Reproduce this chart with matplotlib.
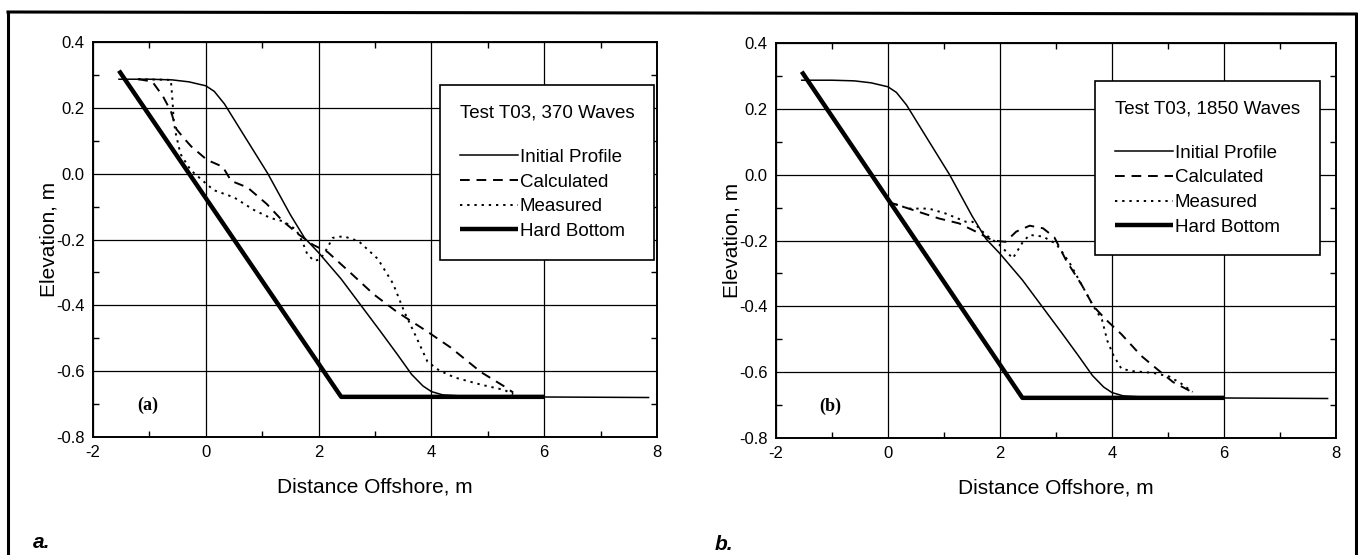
import matplotlib.pyplot as plt
from matplotlib.lines import Line2D
from matplotlib.ticker import MultipleLocator

plt.rcParams['font.family'] = ['Liberation Sans', 'DejaVu Sans']
plt.rcParams['axes.unicode_minus'] = False

# shared profiles
init_x = [-1.54, -1.0, -0.6, -0.3, 0.0, 0.15, 0.33, 0.7, 1.1, 1.5, 1.75, 2.0, 2.4, 2.75, 3.1,
          3.4, 3.65, 3.85, 4.0, 4.2, 4.6, 5.5, 7.85]
init_y = [0.287, 0.287, 0.285, 0.279, 0.267, 0.25, 0.212, 0.11, 0.0, -0.125, -0.195, -0.24,
          -0.32, -0.40, -0.48, -0.55, -0.61, -0.645, -0.662, -0.672, -0.676, -0.678, -0.68]
hard_x = [-1.54, 2.4, 6.0]
hard_y = [0.313, -0.678, -0.678]

# (a) 370 waves
calc_a_x = [-1.2, -0.95, -0.76, -0.62, -0.52, -0.4, -0.26, 0.02, 0.3, 0.45, 0.74, 1.08, 1.37,
            1.65, 1.9, 2.16, 2.57, 2.98, 3.39, 3.93, 4.34, 4.88, 5.29, 5.45]
calc_a_y = [0.287, 0.28, 0.235, 0.19, 0.135, 0.11, 0.083, 0.042, 0.021, -0.022, -0.042, -0.092,
            -0.145, -0.185, -0.216, -0.238, -0.302, -0.367, -0.42, -0.48, -0.528, -0.603, -0.646,
            -0.665]
meas_a_x = [-1.2, -0.62, -0.59, -0.57, -0.53, -0.45, -0.27, -0.03, 0.14, 0.5, 0.85, 1.15, 1.38,
            1.6, 1.72, 1.8, 1.92, 2.03, 2.14, 2.25, 2.44, 2.71, 3.05, 3.32, 3.52, 3.73, 3.93,
            4.14, 4.41, 4.88, 5.29, 5.45]
meas_a_y = [0.287, 0.285, 0.22, 0.16, 0.12, 0.06, 0.011, -0.025, -0.05, -0.072, -0.11, -0.135,
            -0.145, -0.17, -0.21, -0.245, -0.265, -0.26, -0.23, -0.195, -0.19, -0.205, -0.259,
            -0.334, -0.42, -0.496, -0.571, -0.598, -0.619, -0.641, -0.657, -0.67]

# (b) 1850 waves
calc_b_x = [0.01, 0.19, 0.55, 0.91, 1.27, 1.57, 1.87, 2.1, 2.29, 2.53, 2.77, 2.97, 3.18, 3.46,
            3.67, 3.89, 4.17, 4.52, 4.8, 5.09, 5.37, 5.45]
calc_b_y = [-0.083, -0.093, -0.113, -0.133, -0.148, -0.173, -0.2, -0.204, -0.173, -0.155, -0.163,
            -0.19, -0.26, -0.335, -0.4, -0.44, -0.485, -0.55, -0.59, -0.63, -0.655, -0.67]
meas_b_x = [0.01, 0.37, 0.73, 1.03, 1.39, 1.51, 1.75, 1.99, 2.23, 2.41, 2.53, 2.77, 3.0, 3.11,
            3.25, 3.46, 3.67, 3.82, 3.92, 4.03, 4.17, 4.38, 4.73, 5.02, 5.23, 5.44]
meas_b_y = [-0.083, -0.103, -0.103, -0.118, -0.143, -0.143, -0.183, -0.213, -0.254, -0.204,
            -0.183, -0.188, -0.21, -0.235, -0.27, -0.335, -0.4, -0.44, -0.506, -0.55, -0.59,
            -0.597, -0.602, -0.613, -0.634, -0.66]

fig = plt.figure(figsize=(13.58, 5.55), dpi=100)
ax1 = fig.add_axes([0.0685, 0.2126, 0.4153, 0.7117])
ax2 = fig.add_axes([0.5714, 0.2108, 0.4124, 0.7117])

panels = [
    (ax1, calc_a_x, calc_a_y, meas_a_x, meas_a_y, 'Test T03, 370 Waves', '(a)', (0.615, 0.891)),
    (ax2, calc_b_x, calc_b_y, meas_b_x, meas_b_y, 'Test T03, 1850 Waves', '(b)', (0.57, 0.904)),
]

for ax, cx, cy, mx, my, title, tag, anchor in panels:
    ax.plot(init_x, init_y, color='black', lw=1.1, label='Initial Profile')
    ax.plot(cx, cy, color='black', lw=1.4, dashes=(5, 3.5), label='Calculated')
    ax.plot(mx, my, color='black', lw=1.4, dashes=(1.2, 2.5), label='Measured')
    ax.plot(hard_x, hard_y, color='black', lw=3.2, solid_capstyle='butt', label='Hard Bottom')
    ax.set_xlim(-2, 8)
    ax.set_ylim(-0.8, 0.4)
    ax.xaxis.set_major_locator(MultipleLocator(2))
    ax.xaxis.set_minor_locator(MultipleLocator(1))
    ax.yaxis.set_major_locator(MultipleLocator(0.2))
    ax.yaxis.set_minor_locator(MultipleLocator(0.1))
    ax.yaxis.set_major_formatter(plt.FuncFormatter(lambda v, p: '%.1f' % v))
    ax.grid(True, which='major', color='black', lw=0.9)
    ax.tick_params(which='both', direction='in', top=True, right=True, labelsize=12, pad=6)
    ax.tick_params(which='major', length=0)
    ax.tick_params(which='minor', length=4, width=1)
    for s in ax.spines.values():
        s.set_linewidth(1.4)
    ax.set_xlabel('Distance Offshore, m', fontsize=15, labelpad=12)
    ax.set_ylabel('Elevation, m', fontsize=15, labelpad=-2)
    ax.text(-1.03, -0.705, tag, fontsize=13, fontweight='bold', family='Liberation Serif',
            ha='center', va='center')
    leg = ax.legend(title=title + '\n', loc='upper left', bbox_to_anchor=anchor, fontsize=13.5,
                    title_fontsize=13.5, frameon=True, fancybox=False, edgecolor='black',
                    framealpha=1, handlelength=3.1, handletextpad=0.1, labelspacing=0.4,
                    borderpad=1.05, borderaxespad=0)
    leg.get_frame().set_linewidth(1.2)
    leg._legend_box.align = 'left'
    leg.get_title().set_ha('center')

# outer frame
fig.add_artist(Line2D([8 / 1358, 8 / 1358], [0, 1 - 12 / 555], color='black', lw=2.2))
fig.add_artist(Line2D([8 / 1358, 1356 / 1358], [1 - 12 / 555, 1 - 14 / 555], color='black', lw=2.2))
fig.add_artist(Line2D([1356 / 1358, 1356 / 1358], [1 - 14 / 555, 0], color='black', lw=2.2))

fig.text(33 / 1358, 1 - 543 / 555, 'a.', fontsize=15, fontweight='bold', style='italic',
         va='center')
fig.text(715 / 1358, 1 - 545 / 555, 'b.', fontsize=15, fontweight='bold', style='italic',
         va='center')

fig.savefig('out.png', dpi=100)
